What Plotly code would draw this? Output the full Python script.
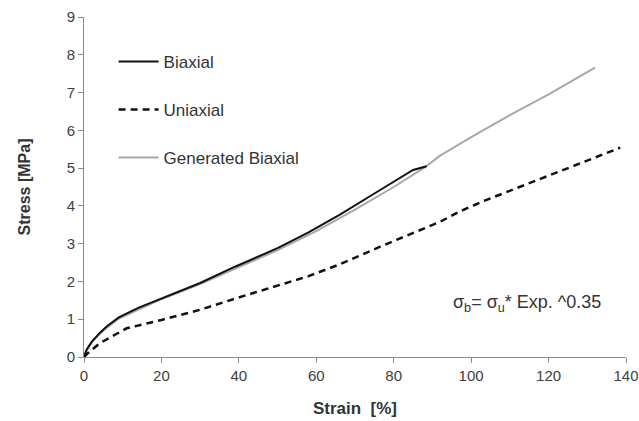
import plotly.graph_objects as go

# Biaxial (measured)
biax_x = [0, 0.7, 2, 4, 6, 9, 14, 20, 30, 39, 50, 58, 66, 76.5, 85, 88.5]
biax_y = [0, 0.2, 0.4, 0.63, 0.82, 1.05, 1.3, 1.55, 1.96, 2.39, 2.88, 3.3, 3.76, 4.42, 4.95, 5.05]

# Uniaxial (measured)
uni_x = [0, 1, 4, 8, 11, 20, 25, 30, 42, 50, 58, 66, 76.5, 92, 97, 104, 115, 125, 138.5]
uni_y = [0, 0.1, 0.36, 0.6, 0.76, 0.98, 1.11, 1.25, 1.64, 1.88, 2.14, 2.45, 2.92, 3.58, 3.85, 4.16, 4.60, 5.0, 5.54]

# Generated biaxial
gen_x = [0, 2, 5, 9, 20, 30, 40, 50, 60, 70, 80, 88, 92, 100, 110, 120, 132]
gen_y = [0.05, 0.4, 0.7, 1.02, 1.53, 1.93, 2.38, 2.83, 3.33, 3.9, 4.5, 5.02, 5.33, 5.82, 6.40, 6.95, 7.66]

x_ticks = [0, 20, 40, 60, 80, 100, 120, 140]
y_ticks = [0, 1, 2, 3, 4, 5, 6, 7, 8, 9]

FONT = "Liberation Sans, Arial"

fig = go.Figure()
fig.add_trace(go.Scatter(x=gen_x, y=gen_y, mode="lines", name="Generated Biaxial",
                         line=dict(color="#a8a8a8", width=2), legendgroup="c", legendrank=3))
fig.add_trace(go.Scatter(x=biax_x, y=biax_y, mode="lines", name="Biaxial",
                         line=dict(color="#111111", width=2), legendgroup="a", legendrank=1))
fig.add_trace(go.Scatter(x=uni_x, y=uni_y, mode="lines", name="Uniaxial",
                         line=dict(color="#111111", width=2.5, dash="7px,5px"), legendgroup="b", legendrank=2))

fig.add_annotation(x=114.4, y=1.42, xref="x", yref="y", showarrow=False,
                   text="σ<sub>b</sub>= σ<sub>u</sub>* Exp. ^0.35",
                   font=dict(family=FONT, size=18, color="#333333"))

axis_common = dict(showline=True, linecolor="#8a8a8a", linewidth=1, ticks="outside",
                   ticklen=5, tickcolor="#8a8a8a", showgrid=False, zeroline=False,
                   automargin=False,
                   tickfont=dict(family=FONT, size=15, color="#404040"))

fig.update_xaxes(range=[0, 140], tickvals=x_ticks, ticktext=[str(v) for v in x_ticks],
                 title=dict(text="<b>Strain  [%]</b>", standoff=19,
                            font=dict(family=FONT, size=17, color="#333333")),
                 **axis_common)
fig.update_yaxes(range=[0, 9], tickvals=y_ticks, ticktext=[str(v) for v in y_ticks],
                 title=dict(text="<b>Stress [MPa]</b>", standoff=32,
                            font=dict(family=FONT, size=16, color="#333333")),
                 **axis_common)

fig.update_layout(
    width=639, height=421,
    margin=dict(l=84, r=13, t=17, b=64),
    plot_bgcolor="white", paper_bgcolor="white",
    legend=dict(x=0.0546, y=0.921, xanchor="left", yanchor="top", bgcolor="rgba(0,0,0,0)",
                tracegroupgap=23, itemwidth=40,
                font=dict(family=FONT, size=17, color="#333333")),
    showlegend=True,
)

fig.write_html("out.html")
